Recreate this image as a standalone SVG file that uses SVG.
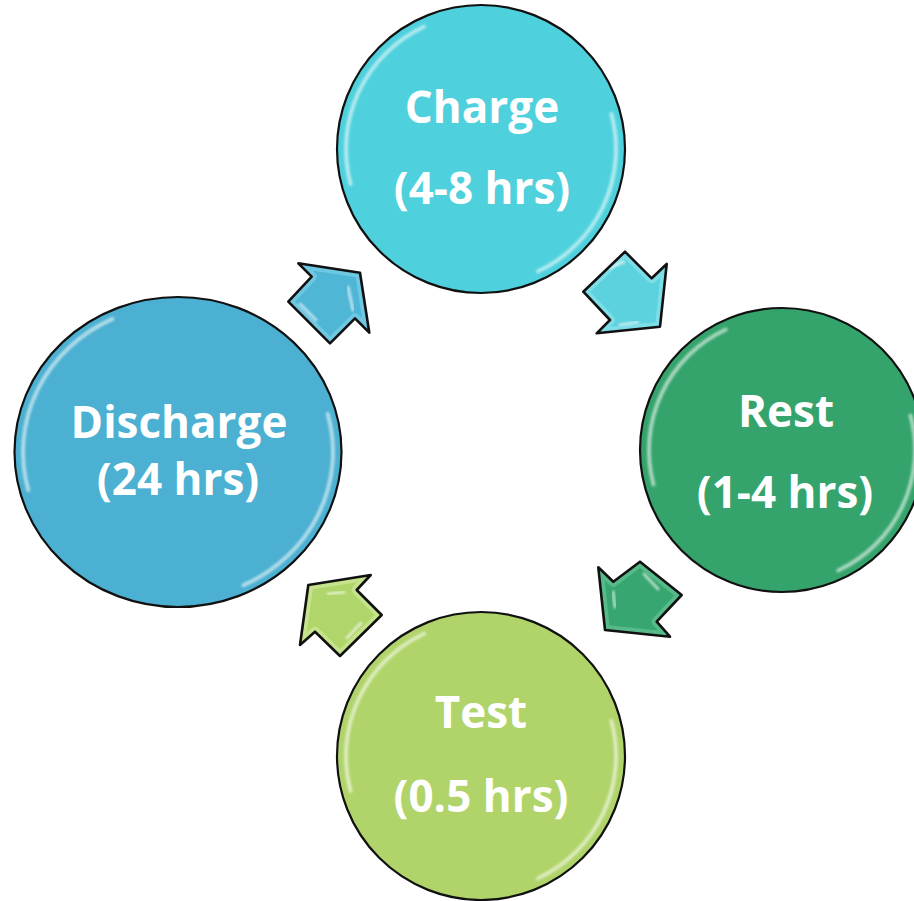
<svg xmlns="http://www.w3.org/2000/svg" width="914" height="901" viewBox="0 0 914 901">
<style>
.lbl{font-family:"Open Sans","Liberation Sans",sans-serif;font-weight:bold;font-size:44px;fill:#ffffff;text-anchor:middle}
.ring{stroke:#111;stroke-width:2.2}
.hl{fill:none;stroke:#ffffff;stroke-opacity:0.55;stroke-width:4;stroke-linecap:round;filter:url(#soft)}
.aout{fill:none;stroke:#111;stroke-width:2.6;stroke-linejoin:round}
.bev{fill:none;stroke-width:10;stroke-linejoin:round;stroke-opacity:0.6}
.shine{fill:none;stroke:#fff;stroke-opacity:0.6;stroke-width:3;stroke-linecap:round;filter:url(#soft)}
</style>
<defs>
<filter id="soft" x="-20%" y="-20%" width="140%" height="140%"><feGaussianBlur stdDeviation="1.3"/></filter>
<polygon id="a1" points="298.3,263.3 360,272.7 369.3,332.7 355,318.3 330,343.3 288.3,301.7 311.7,276.7"/>
<polygon id="a2" points="625,251.7 651.7,278.3 666.7,264 660,326.7 596.7,333.3 610,320 583.3,291.7"/>
<polygon id="a3" points="640,561.7 681.7,595 656.7,621.7 670,636.7 605,630 598.3,567.3 613.3,581.7"/>
<polygon id="a4" points="370.7,575 308.3,585 300,645 315,631.7 340,656 381.7,615 356.7,590"/>
<clipPath id="c1"><use href="#a1"/></clipPath>
<clipPath id="c2"><use href="#a2"/></clipPath>
<clipPath id="c3"><use href="#a3"/></clipPath>
<clipPath id="c4"><use href="#a4"/></clipPath>
</defs>
<rect width="914" height="901" fill="#ffffff"/>

<g id="connectors">
  <g id="arrow-discharge-charge">
    <use href="#a1" fill="#4fb6d6"/>
    <use href="#a1" class="bev" stroke="#86d3ea" clip-path="url(#c1)"/>
    <path class="shine" d="M348,287 L353,310"/>
    <path class="shine" d="M300,304 L316,320"/>
  </g>
  <g id="arrow-charge-rest">
    <use href="#a2" fill="#5cd2de"/>
    <use href="#a2" class="bev" stroke="#93e6ee" clip-path="url(#c2)"/>
    <path class="shine" d="M608,268 L624,262"/>
    <path class="shine" d="M620,325 L638,322"/>
  </g>
  <g id="arrow-rest-test">
    <use href="#a3" fill="#38a670"/>
    <use href="#a3" class="bev" stroke="#6cc999" clip-path="url(#c3)"/>
    <path class="shine" d="M644,574 L658,589"/>
    <path class="shine" d="M613,592 L615,607"/>
  </g>
  <g id="arrow-test-discharge">
    <use href="#a4" fill="#b0d56b"/>
    <use href="#a4" class="bev" stroke="#d4eda0" clip-path="url(#c4)"/>
    <path class="shine" d="M328,594 L344,592"/>
    <path class="shine" d="M347,638 L361,623"/>
  </g>
  <use href="#a1" class="aout"/>
  <use href="#a2" class="aout"/>
  <use href="#a3" class="aout"/>
  <use href="#a4" class="aout"/>
</g>

<g id="node-charge">
  <circle class="ring" cx="481" cy="149" r="144" fill="#4fd1dd"/>
  <path class="hl" d="M350.6,184 A135,135 0 0 1 423.9,26.7"/>
  <path class="hl" d="M611.4,114 A135,135 0 0 1 538.1,271.3"/>
  <text class="lbl" x="482" y="123">Charge</text>
  <text class="lbl" x="482" y="204">(4-8 hrs)</text>
</g>

<g id="node-rest">
  <circle class="ring" cx="782" cy="450" r="142" fill="#35a46c"/>
  <path class="hl" d="M653.5,484.4 A133,133 0 0 1 725.8,329.5"/>
  <path class="hl" d="M910.5,415.6 A133,133 0 0 1 838.2,570.5"/>
  <text class="lbl" x="786" y="427">Rest</text>
  <text class="lbl" x="785" y="508">(1-4 hrs)</text>
</g>

<g id="node-test">
  <circle class="ring" cx="481" cy="756" r="144" fill="#b0d46a"/>
  <path class="hl" d="M350.6,791 A135,135 0 0 1 423.9,633.7"/>
  <path class="hl" d="M611.4,721 A135,135 0 0 1 538.1,878.3"/>
  <text class="lbl" x="481" y="728">Test</text>
  <text class="lbl" x="481" y="812">(0.5 hrs)</text>
</g>

<g id="node-discharge">
  <ellipse class="ring" cx="178" cy="452" rx="163.5" ry="155" fill="#4bb0d1"/>
  <path class="hl" d="M28.3,490 A155,147 0 0 1 112.5,318.8"/>
  <path class="hl" d="M327.7,413.9 A155,147 0 0 1 243.5,585.2"/>
  <text class="lbl" x="179" y="438">Discharge</text>
  <text class="lbl" x="178" y="495">(24 hrs)</text>
</g>
</svg>
